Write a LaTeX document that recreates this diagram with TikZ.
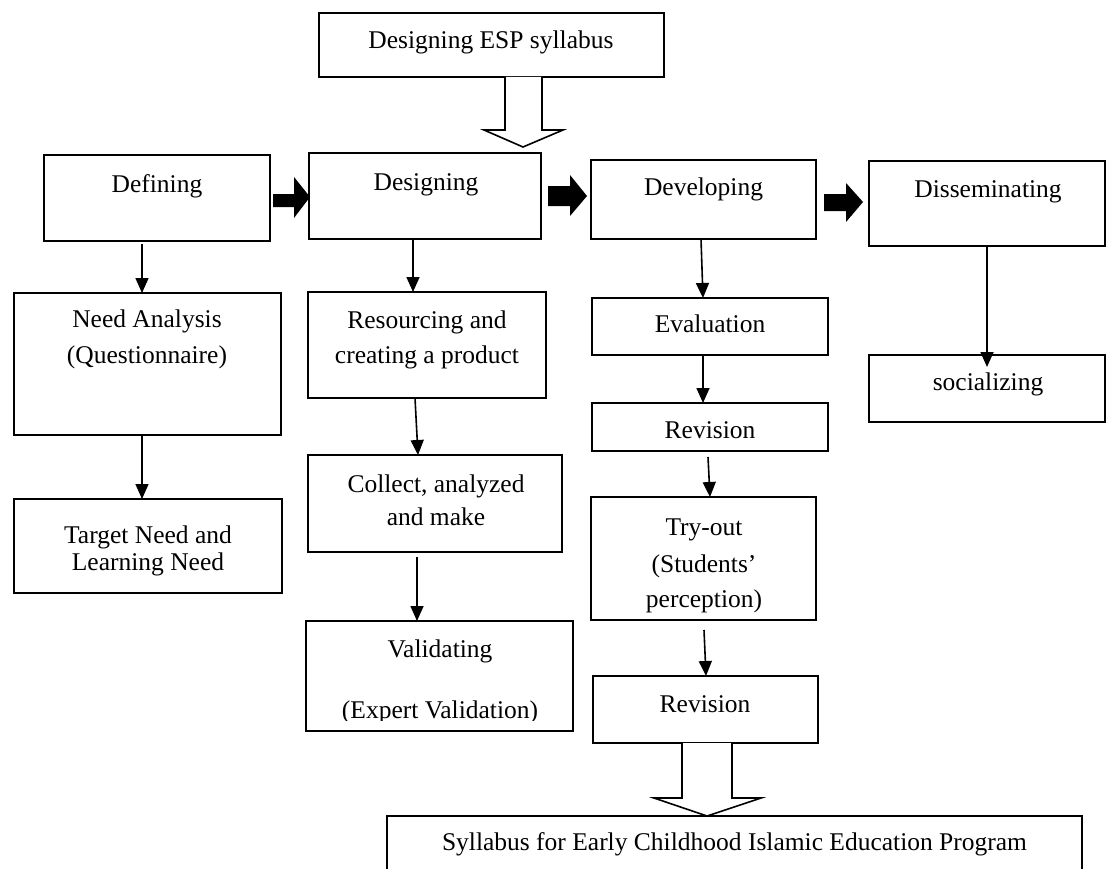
\documentclass[tikz,border=0pt]{standalone}
\usepackage{fontspec}
\setmainfont{Liberation Serif}
\usetikzlibrary{arrows.meta}
\tikzset{
  bx/.style={draw, line width=1.6pt, rectangle, inner sep=0pt, outer sep=0pt},
  tx/.style={anchor=base, inner sep=0pt, font=\fontsize{25.5}{31}\selectfont},
  arr/.style={line width=1.6pt, -{Triangle[length=15pt,width=13pt]}},
  fat/.style={fill=black},
  hollow/.style={draw, fill=white, line width=1.6pt, line join=miter},
}
\newcommand\mkbox[5]{\node[bx, minimum width={#4pt-#2pt}, minimum height={#5pt-#3pt}] (#1) at ({(#2+#4)/2},{(#3+#5)/2}) {};}
\begin{document}
\begin{tikzpicture}[x=1pt,y=-1pt]
\path[use as bounding box] (0,0) rectangle (1107,869);
\clip (0,0) rectangle (1107,869);
% boxes
\mkbox{top}{319}{13}{664}{77}
\mkbox{def}{44}{155}{270}{241}
\mkbox{des}{309}{153}{541}{239}
\mkbox{dev}{591}{160}{816}{239}
\mkbox{dis}{869}{161}{1105}{246}
\mkbox{na}{14}{293}{281}{435}
\mkbox{tn}{14}{499}{282}{593}
\mkbox{res}{308}{292}{546}{398}
\mkbox{col}{308}{455}{562}{552}
\mkbox{val}{306}{621}{573}{731}
\mkbox{eva}{592}{298}{828}{355}
\mkbox{rev}{592}{403}{828}{451}
\mkbox{try}{591}{497}{816}{620}
\mkbox{revb}{593}{676}{818}{743}
\mkbox{soc}{869}{355}{1105}{422}
\mkbox{syl}{387}{816}{1082}{900}
% texts
\node[tx] (top-t) at (491,49) {Designing ESP syllabus};
\node[tx] (def-t) at (157,193) {Defining};
\node[tx] (des-t) at (426,190) {Designing};
\node[tx] (dev-t) at (703.5,195) {Developing};
\node[tx] (dis-t) at (988,197) {Disseminating};
\node[tx] (soc-t) at (988,390) {socializing};
\node[tx] (na-t1) at (147,327) {Need Analysis};
\node[tx] (na-t2) at (147,363) {(Questionnaire)};
\node[tx] (tn-t1) at (148,543) {Target Need and};
\node[tx] (tn-t2) at (148,570) {Learning Need};
\node[tx] (res-t1) at (427,328) {Resourcing and};
\node[tx] (res-t2) at (427,363) {creating a product};
\node[tx] (col-t1) at (436,492) {Collect, analyzed};
\node[tx] (col-t2) at (436,525) {and make};
\node[tx] (val-t1) at (440,657) {Validating};
\begin{scope}
  \clip (300,680) rectangle (580,720);
  \node[tx] (val-t2) at (440,718.5) {(Expert Validation)};
\end{scope}
\node[tx] (eva-t) at (710,332) {Evaluation};
\node[tx] (rev-t) at (710,438) {Revision};
\node[tx] (try-t1) at (704,535) {Try-out};
\node[tx] (try-t2) at (704,572) {(Students'};
\node[tx] (try-t3) at (704,607) {perception)};
\node[tx] (revb-t) at (705,712) {Revision};
\node[tx] (syl-t) at (734.5,850) {Syllabus for Early Childhood Islamic Education Program};
% thin arrows
\draw[arr] ([xshift=-15pt,yshift=-3pt]def.south) -- ([xshift=-5.5pt]na.north);
\draw[arr] ([xshift=-5.5pt]na.south) -- ([xshift=-6pt]tn.north);
\draw[arr] ([xshift=-12pt]des.south) -- ([xshift=-14pt]res.north);
\draw[arr] ([xshift=-12pt]res.south) -- ([xshift=-17pt]col.north);
\draw[arr] ([xshift=-18pt,yshift=-5pt]col.south) -- ([xshift=-22.5pt]val.north);
\draw[arr] ([xshift=-2.5pt]dev.south) -- ([xshift=-7pt]eva.north);
\draw[arr] ([xshift=-7pt]eva.south) -- ([xshift=-7pt]rev.north);
\draw[arr] ([xshift=-2pt,yshift=-6pt]rev.south) -- ([xshift=6.5pt]try.north);
\draw[arr] ([xshift=0.5pt,yshift=-10pt]try.south) -- ([xshift=0.5pt]revb.north);
\draw[arr] (dis.south) -- ([yshift=-12pt]soc.north);
% fat black arrows
\fill[fat] (273,194) -- (294,194) -- (294,177) -- (310,197) -- (294,218) -- (294,207) -- (273,207) -- cycle;
\fill[fat] (548,186) -- (570,186) -- (570,175) -- (587,196) -- (570,216) -- (570,206) -- (548,206) -- cycle;
\fill[fat] (824,194) -- (846,194) -- (846,183) -- (863,202) -- (846,222) -- (846,211) -- (824,211) -- cycle;
% hollow arrows
\draw[hollow] (top.south -| 505,0) -- (505,130) -- (484,130) -- (523,147) -- (563,130) -- (542,130) -- (top.south -| 542,0);
\draw[hollow] (revb.south -| 682,0) -- (682,798) -- (654,798) -- (707,816) -- (761,798) -- (732,798) -- (revb.south -| 732,0);
\end{tikzpicture}
\end{document}
